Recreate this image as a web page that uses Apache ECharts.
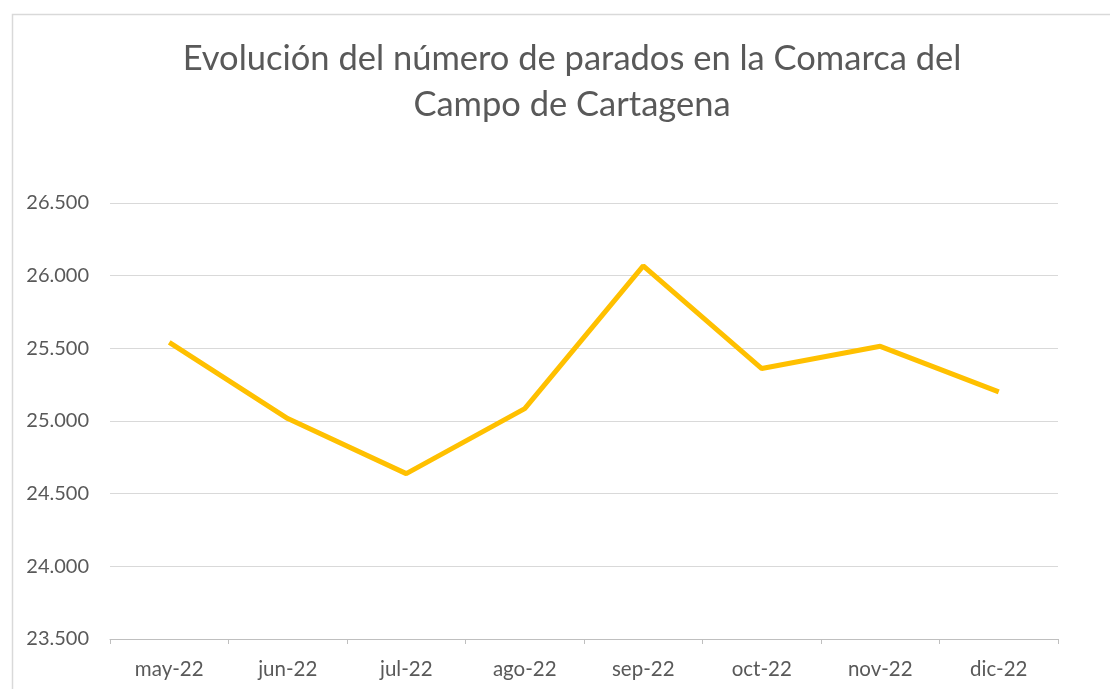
<!DOCTYPE html>
<html><head><meta charset="utf-8">
<script src="https://cdn.jsdelivr.net/npm/echarts@6/dist/echarts.min.js"></script>
<style>html,body{margin:0;padding:0;background:#fff}#c{width:1110px;height:689px}</style>
</head><body><div id="c"></div>
<script>
const categories = ['may-22','jun-22','jul-22','ago-22','sep-22','oct-22','nov-22','dic-22'];
const parados = [25541, 25017, 24638, 25085, 26067, 25361, 25514, 25200];
const titleText = 'Evolución del número de parados en la Comarca del\nCampo de Cartagena';

const chart = echarts.init(document.getElementById('c'));
chart.setOption({
  backgroundColor: '#fff',
  animation: false,
  graphic: [{
    type: 'rect', left: 10, top: 12, shape: { width: 1120, height: 700 },
    style: { fill: 'none', stroke: '#d9d9d9', lineWidth: 1.5 }, silent: true
  }],
  title: {
    text: titleText, left: 567, top: 31, textAlign: 'center',
    textStyle: { fontFamily: 'Lato', fontWeight: 'normal', fontSize: 34.5, color: '#595959', lineHeight: 46 }
  },
  grid: { left: 110, right: 52, top: 203, bottom: 50, containLabel: false },
  xAxis: {
    type: 'category', data: categories, boundaryGap: true,
    axisLine: { lineStyle: { color: '#bfbfbf', width: 1 } },
    axisTick: { show: true, length: 5, lineStyle: { color: '#bfbfbf' } },
    axisLabel: { color: '#595959', fontSize: 20.5, fontFamily: 'Lato', margin: 20 }
  },
  yAxis: {
    type: 'value', min: 23500, max: 26500, interval: 500,
    axisLine: { show: false }, axisTick: { show: false },
    splitLine: { lineStyle: { color: '#d9d9d9', width: 1 } },
    axisLabel: {
      color: '#595959', fontSize: 20, fontFamily: 'Lato', margin: 21,
      formatter: v => v.toLocaleString('de-DE')
    }
  },
  series: [{
    type: 'line', data: parados, symbol: 'none',
    lineStyle: { color: '#FFC000', width: 5 }
  }]
});
</script></body></html>
